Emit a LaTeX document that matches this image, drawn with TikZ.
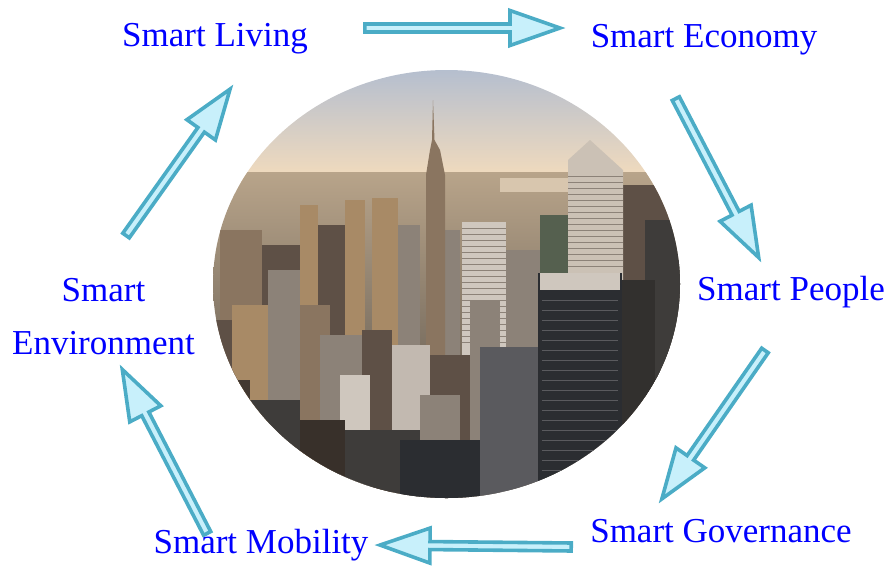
\documentclass[tikz,border=0pt]{standalone}
\usepackage{fontspec}
\setmainfont{Liberation Serif}
\usetikzlibrary{calc}

\definecolor{arrowline}{HTML}{4BACC6}
\definecolor{arrowfill}{HTML}{C8F0FB}
\definecolor{skytop}{HTML}{B4BECF}
\definecolor{skylow}{HTML}{F4DCBC}
\definecolor{hazetop}{HTML}{B8A48A}
\definecolor{hazelow}{HTML}{4A4540}
\definecolor{tanlit}{HTML}{A88A66}
\definecolor{tanmid}{HTML}{8A7560}
\definecolor{brownd}{HTML}{5E5046}
\definecolor{greyl}{HTML}{CFC7BE}
\definecolor{greym}{HTML}{8C8278}
\definecolor{greyd}{HTML}{5A5A5E}
\definecolor{darkb}{HTML}{2B2D31}
\definecolor{darkm}{HTML}{3E3C3A}
\definecolor{greenish}{HTML}{55604F}
\definecolor{water}{HTML}{D8C6AE}

\tikzset{
  topic/.style={text=blue, font=\fontsize{35}{42}\selectfont, inner sep=0pt},
  blockarr/.style={draw=arrowline, fill=arrowfill, line width=3.6pt, line join=miter},
}

\newcommand{\blockarrow}[2]{%
  \coordinate (ba-t) at ($(#1)!1.8pt!(#2)$);
  \coordinate (ba-p) at ($(#2)!5pt!(#1)$);
  \coordinate (ba-h) at ($(ba-p)!50pt!(#1)$);
  \draw[blockarr] ($(ba-t)!4pt!90:(ba-p)$) -- ($(ba-h)!4pt!90:(ba-p)$)
    -- ($(ba-h)!17.5pt!90:(ba-p)$) -- (ba-p) -- ($(ba-h)!17.5pt!-90:(ba-p)$)
    -- ($(ba-h)!4pt!-90:(ba-p)$) -- ($(ba-t)!4pt!-90:(ba-p)$) -- cycle;
}

\begin{document}
\begin{tikzpicture}[x=1pt,y=-1pt]
  \useasboundingbox (0,0) rectangle (888,568);

  % the city in the middle
  \begin{scope}
    \clip (446.5,284) ellipse [x radius=233.5, y radius=214];
    \shade[top color=skytop, bottom color=skylow] (210,68) rectangle (684,182);
    \shade[top color=hazetop, bottom color=hazelow] (210,172) rectangle (684,500);
    \fill[water] (500,178) rectangle (568,192);
    % back row
    \foreach \xa/\ya/\xb/\col in {220/230/262/tanmid, 262/245/300/brownd,
        300/205/318/tanlit, 318/225/345/brownd, 345/200/365/tanlit,
        372/198/398/tanlit, 398/225/420/greym, 445/230/460/greym,
        506/250/540/greym, 540/215/568/greenish, 623/185/670/brownd,
        645/220/684/darkm}
      \fill[\col] (\xa,\ya) rectangle (\xb,500);
    \fill[tanmid] (433,100) -- (434.5,140) -- (440,150) -- (445,175) -- (445,500)
      -- (426,500) -- (426,175) -- (430,150) -- (432,140) -- cycle;
    \fill[greyl] (462,222) rectangle (506,500);
    \foreach \y in {228,234,...,344}
      \draw[greym, line width=0.6pt] (462,\y) -- (506,\y);
    \fill[greyl!90!tanlit] (568,160) -- (590,140) -- (623,170) -- (623,500) -- (568,500) -- cycle;
    \foreach \y in {176,182,...,270}
      \draw[greym, line width=0.6pt] (568,\y) -- (623,\y);
    % front row
    \foreach \xa/\ya/\xb/\col in {213/320/240/brownd, 232/305/268/tanlit,
        268/270/300/greym, 300/305/330/tanmid, 320/335/362/greym,
        362/330/392/brownd, 392/345/430/greyl!80!greym, 340/375/370/greyl,
        430/355/470/brownd, 420/395/460/greym, 470/300/500/greym,
        480/347/542/greyd, 538/273/622/darkb, 622/280/660/darkm!80!black,
        655/260/690/darkm, 213/380/250/brownd!70!black, 240/400/300/darkm,
        300/420/345/brownd!60!black, 345/430/420/darkm, 400/440/480/darkb}
      \fill[\col] (\xa,\ya) rectangle (\xb,500);
    \fill[greyl] (540,273) rectangle (620,290);
    \foreach \y in {300,310,...,490}
      \draw[greyd, line width=0.4pt] (542,\y) -- (618,\y);
  \end{scope}

  % labels
  \node[topic, anchor=base] (living) at (215,46) {Smart Living};
  \node[topic, anchor=base] (economy) at (704,47) {Smart Economy};
  \node[topic, anchor=base] (people) at (791,300) {Smart People};
  \node[topic, anchor=base] (governance) at (721,542) {Smart Governance};
  \node[topic, anchor=base] (mobility) at (261,553) {Smart Mobility};
  \node[topic, align=center, font=\fontsize{35}{53}\selectfont] (environment)
    at (103.5,316.7) {Smart\\Environment};

  % arrow ends
  \coordinate (liv-eco-a) at (363,28);
  \coordinate (liv-eco-b) at (565,28);
  \coordinate (eco-peo-a) at (675,97);
  \coordinate (eco-peo-b) at (761,262);
  \coordinate (peo-gov-a) at (766,349);
  \coordinate (peo-gov-b) at (659,503);
  \coordinate (gov-mob-a) at (573,547);
  \coordinate (gov-mob-b) at (375,545);
  \coordinate (mob-env-a) at (208,535);
  \coordinate (mob-env-b) at (120,365);
  \coordinate (env-liv-a) at (125,237);
  \coordinate (env-liv-b) at (233,85);

  \blockarrow{liv-eco-a}{liv-eco-b}
  \blockarrow{eco-peo-a}{eco-peo-b}
  \blockarrow{peo-gov-a}{peo-gov-b}
  \blockarrow{gov-mob-a}{gov-mob-b}
  \blockarrow{mob-env-a}{mob-env-b}
  \blockarrow{env-liv-a}{env-liv-b}
\end{tikzpicture}
\end{document}
